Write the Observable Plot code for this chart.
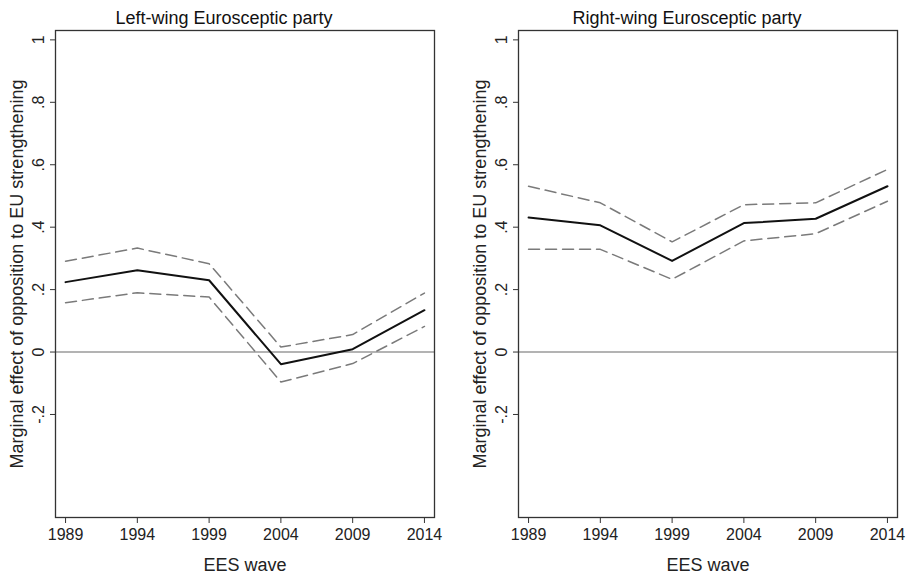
<!DOCTYPE html>
<html>
<head>
<meta charset="utf-8">
<script src="https://cdn.jsdelivr.net/npm/d3@7"></script>
<script src="https://cdn.jsdelivr.net/npm/@observablehq/plot@0.6"></script>
<style>
  html, body { margin: 0; padding: 0; background: #fff; }
  #wrap { display: flex; width: 908px; height: 576px; font-family: "Liberation Sans", Arial, sans-serif; }
</style>
</head>
<body>
<div id="wrap"></div>
<script>
const years = [1989, 1994, 1999, 2004, 2009, 2014];
const leftEst   = [0.224, 0.262, 0.230, -0.039, 0.009, 0.134];
const leftUpper = [0.291, 0.333, 0.283, 0.016, 0.056, 0.189];
const leftLower = [0.158, 0.190, 0.176, -0.096, -0.037, 0.082];
const rightEst   = [0.431, 0.406, 0.292, 0.413, 0.427, 0.531];
const rightUpper = [0.531, 0.478, 0.353, 0.472, 0.478, 0.585];
const rightLower = [0.329, 0.329, 0.233, 0.356, 0.379, 0.483];
const yTicks = [-0.2, 0, 0.2, 0.4, 0.6, 0.8, 1];
const yTickLabels = ["-.2", "0", ".2", ".4", ".6", ".8", "1"];
const panelTitles = ["Left-wing Eurosceptic party", "Right-wing Eurosceptic party"];
const yTitle = "Marginal effect of opposition to EU strengthening";
const xTitle = "EES wave";

function rows(est, up, lo) {
  return years.map((y, i) => ({year: y, est: est[i], up: up[i], lo: lo[i]}));
}

function panel(title, data, marginLeft, marginRight) {
  const fs = 16;
  const ts = 18;
  return Plot.plot({
    width: 454,
    height: 576,
    marginTop: 30,
    marginBottom: 59,
    marginLeft,
    marginRight,
    style: {fontFamily: '"Liberation Sans", Arial, sans-serif', fontSize: fs + "px", color: "#222", background: "#fff", overflow: "visible"},
    x: {domain: [1988.3, 2014.7], axis: null},
    y: {domain: [-0.53, 1.03], axis: null},
    marks: [
      Plot.ruleY([0], {stroke: "#9a9a9a", strokeWidth: 1.5}),
      Plot.line(data, {x: "year", y: "up", stroke: "#7a7a7a", strokeWidth: 1.5, strokeDasharray: "11,6"}),
      Plot.line(data, {x: "year", y: "lo", stroke: "#7a7a7a", strokeWidth: 1.5, strokeDasharray: "11,6"}),
      Plot.line(data, {x: "year", y: "est", stroke: "#111", strokeWidth: 2}),
      Plot.frame({stroke: "#333", strokeWidth: 1.3}),
      Plot.axisX({ticks: years, tickFormat: d => String(d), tickSize: 6, tickPadding: 5, fontSize: fs, label: null, stroke: "#333"}),
      Plot.axisY({ticks: yTicks, tickFormat: () => "", tickSize: 5, label: null, stroke: "#333"}),
      Plot.text(yTicks, {y: d => d, text: (d, i) => yTickLabels[i], frameAnchor: "left", rotate: -90, dx: -17, textAnchor: "middle", lineAnchor: "middle", fontSize: fs, fill: "#222"}),
      Plot.text([yTitle], {frameAnchor: "left", rotate: -90, dx: -38, textAnchor: "middle", lineAnchor: "middle", fontSize: ts, fill: "#222"}),
      Plot.text([xTitle], {frameAnchor: "bottom", dy: 48, textAnchor: "middle", lineAnchor: "middle", fontSize: ts, fill: "#222"}),
      Plot.text([title], {frameAnchor: "top", dy: -12, dx: -21, textAnchor: "middle", lineAnchor: "middle", fontSize: ts, fill: "#111"})
    ]
  });
}

const wrap = document.getElementById("wrap");
wrap.appendChild(panel(panelTitles[0], rows(leftEst, leftUpper, leftLower), 55, 20));
wrap.appendChild(panel(panelTitles[1], rows(rightEst, rightUpper, rightLower), 64, 11));
</script>
</body>
</html>
